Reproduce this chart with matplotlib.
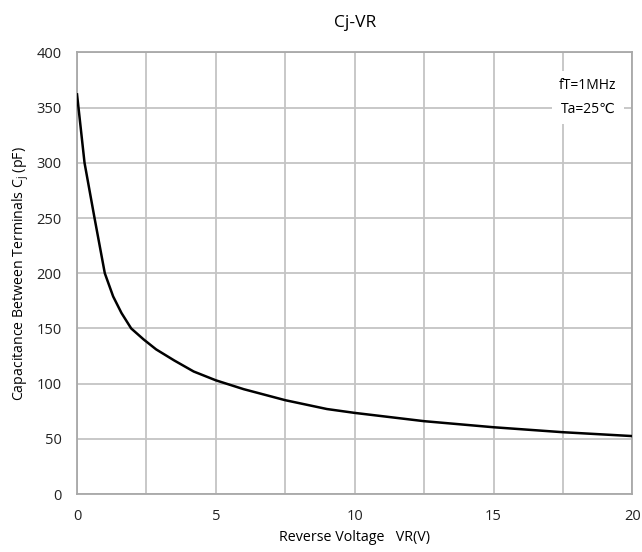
import numpy as np
import matplotlib.pyplot as plt

# values
vr = [0, 0.27, 0.63, 1.0, 1.3, 1.6, 1.95, 2.4, 2.85, 3.5, 4.2, 5.0, 6.0, 7.5, 9.0, 10.0, 12.5, 15.0, 17.5, 20.0]
cj = [362, 300, 250, 200, 179, 164, 150, 140, 131, 121, 111, 103, 95, 85, 77, 73.5, 66, 60.5, 56, 52.5]

x_ticks = [0, 5, 10, 15, 20]
y_ticks = [0, 50, 100, 150, 200, 250, 300, 350, 400]

plt.rcParams['font.family'] = ['Open Sans', 'DejaVu Sans']

fig = plt.figure(figsize=(6.42, 5.52), dpi=100)
ax = fig.add_axes([0.12, 0.105, 0.865, 0.80])

ax.plot(vr, cj, color='black', lw=1.8, zorder=3)

ax.set_xlim(0, 20)
ax.set_ylim(0, 400)
ax.set_xticks(x_ticks)
ax.set_xticks(np.arange(0, 20.1, 2.5), minor=True)
ax.set_yticks(y_ticks)
ax.grid(True, which='both', color='#c4c4c4', lw=1.3)
ax.tick_params(which='both', length=0, labelsize=10.5, colors='#222222')
ax.tick_params(axis='x', pad=11)
ax.tick_params(axis='y', pad=11)
for s in ax.spines.values():
    s.set_color('#a8a8a8')
    s.set_linewidth(1.3)

ax.set_title('Cj-VR', fontsize=12.5, pad=18)
ax.set_xlabel('Reverse Voltage   VR(V)', fontsize=10.3, labelpad=4)
ax.set_ylabel(r'Capacitance Between Terminals C$_\mathregular{j}$ (pF)', fontsize=10.2, labelpad=4)

ax.text(18.4, 359, 'fT=1MHz\nTa=25\u2103', fontsize=10, ha='center', va='center',
        linespacing=1.8,
        bbox=dict(facecolor='white', edgecolor='none', pad=5), zorder=4)

fig.savefig('out.png', dpi=100)
